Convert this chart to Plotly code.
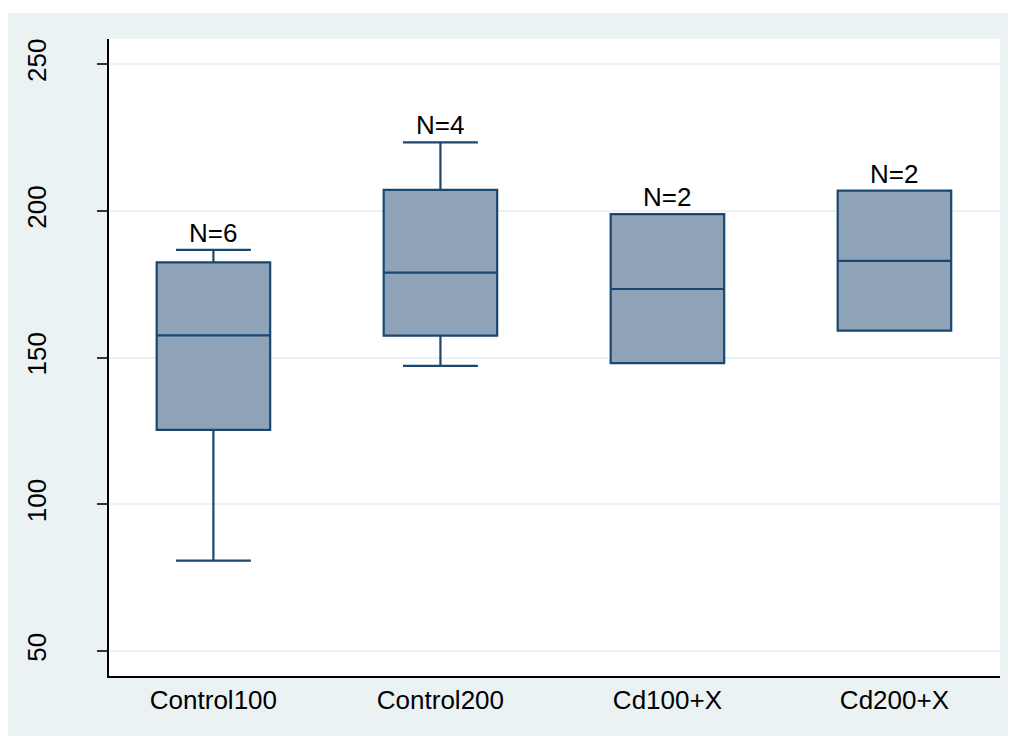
import plotly.graph_objects as go

categories = ["Control100", "Control200", "Cd100+X", "Cd200+X"]
lower_adj = [80.8, 147.2, 148.1, 159.2]
q1 = [125.4, 157.5, 148.1, 159.2]
median = [157.6, 179.0, 173.4, 183.0]
q3 = [182.5, 207.2, 198.9, 206.9]
upper_adj = [186.7, 223.4, 198.9, 206.9]
counts = [6, 4, 2, 2]
y_ticks = [50, 100, 150, 200, 250]

NAVY = "#1A476F"
FILL = "#8EA3B8"
BG = "#EAF2F3"
FONT = "Liberation Sans, Arial, sans-serif"

fig = go.Figure()
fig.add_trace(go.Box(
    x=list(range(len(categories))),
    q1=q1, median=median, q3=q3,
    lowerfence=lower_adj, upperfence=upper_adj,
    width=0.5, whiskerwidth=0.66,
    fillcolor=FILL,
    line=dict(color=NAVY, width=2.2),
    boxpoints=False,
    hoverinfo="skip",
    showlegend=False,
))

for i, (n, top) in enumerate(zip(counts, upper_adj)):
    fig.add_annotation(
        x=i, y=top, xref="x", yref="y",
        text=f"N={n}", showarrow=False,
        yanchor="bottom", xanchor="center", yshift=0,
        font=dict(family=FONT, size=26, color="black"),
    )

# thin white strip at the top of the page, above the graph region
fig.add_shape(type="rect", xref="paper", yref="paper",
              x0=-0.2, x1=1.2, y0=1.0408, y1=1.2,
              fillcolor="white", line=dict(width=0), layer="below")

fig.update_layout(
    width=1008, height=728,
    margin=dict(l=101, r=16, t=31, b=60, autoexpand=False),
    paper_bgcolor=BG, plot_bgcolor="white",
    font=dict(family=FONT, size=26, color="black"),
    showlegend=False,
)
fig.update_xaxes(
    range=[-0.46, 3.465],
    tickmode="array", tickvals=list(range(len(categories))), ticktext=categories,
    ticks="", showgrid=False, zeroline=False, automargin=False,
    showline=True, linecolor="black", linewidth=1.5,
    tickfont=dict(family=FONT, size=26, color="black"),
)
fig.update_yaxes(
    range=[41.5, 258.6],
    tickmode="array", tickvals=y_ticks, ticktext=[str(v) for v in y_ticks],
    tickangle=-90, ticks="outside", ticklen=10, tickwidth=1.5, tickcolor="#333333",
    ticklabelstandoff=41, automargin=False,
    showgrid=True, gridcolor=BG, gridwidth=2,
    zeroline=False,
    showline=True, linecolor="black", linewidth=1.5,
    tickfont=dict(family=FONT, size=26, color="black"),
)

fig.write_html("out.html")
